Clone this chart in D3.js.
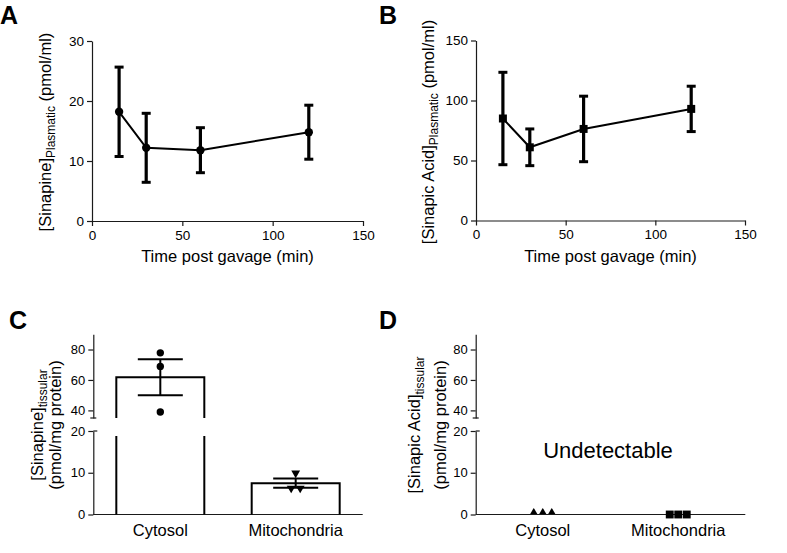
<!DOCTYPE html>
<html><head><meta charset="utf-8">
<script src="https://cdn.jsdelivr.net/npm/d3@7"></script>
<style>
body{margin:0;background:#fff}
svg{display:block}
text{font-family:"Liberation Sans",Arial,sans-serif;fill:#000}
</style>
</head><body>
<svg id="chart" width="787" height="553"></svg>
<script>
// ---------- data ----------
const times = [15, 30, 60, 120];
const sinapineMean = [18.2, 12.2, 11.8, 14.8];
const sinapineSD = [7.45, 5.75, 3.75, 4.5];
const sinapicMean = [85, 61, 76.3, 93];
const sinapicSD = [38.5, 15.3, 27.3, 18.9];
const timeTicks = [0, 50, 100, 150];
const sinapineTicks = [0, 10, 20, 30];
const sinapicTicks = [0, 50, 100, 150];

const compartments = ["Cytosol", "Mitochondria"];
const tissueSinapineMean = [61.8, 7.5];
const tissueSinapineSEM = [11.8, 1.1];
const cytosolSinapine = [77.8, 68.9, 38.9];
const mitoSinapine = [9.9, 6.3, 6.3];
const cytosolSinapic = [0, 0, 0];
const mitoSinapic = [0, 0, 0];
const upperTicks = [40, 60, 80];
const lowerTicks = [0, 10, 20];

// ---------- helpers ----------
const svg = d3.select("#chart");
const AX = "#1a1a1a";

function styleAxis(g, fs) {
  g.selectAll("path.domain").attr("stroke", AX).attr("stroke-width", 1.2);
  g.selectAll(".tick line").attr("stroke", AX).attr("stroke-width", 1.2);
  g.selectAll(".tick text").attr("font-size", fs).attr("font-family", '"Liberation Sans",Arial,sans-serif').attr("fill", "#000");
}

function panelLabel(t, x, y) {
  svg.append("text").attr("x", x).attr("y", y).attr("font-size", 25).attr("font-weight", "bold").text(t);
}

function rotTitle(x, y, main, sub, rest) {
  const t = svg.append("text").attr("transform", `translate(${x},${y}) rotate(-90)`)
    .attr("text-anchor", "middle").attr("font-size", 16.5);
  t.append("tspan").text(main);
  if (sub) t.append("tspan").attr("font-size", 12).attr("dy", 4).text(sub);
  if (rest) t.append("tspan").attr("dy", sub ? -4 : 0).text(rest);
}

// ---------- line panels A & B ----------
function linePanel(cfg) {
  const x = d3.scaleLinear().domain([0, 150]).range([cfg.x0, cfg.x1]);
  const y = d3.scaleLinear().domain(cfg.yDomain).range([cfg.yb, cfg.yt]);
  const gx = svg.append("g").attr("transform", `translate(0,${cfg.yb})`)
    .call(d3.axisBottom(x).tickValues(timeTicks).tickSize(5).tickSizeOuter(0).tickPadding(4));
  styleAxis(gx, 13.5);
  const gy = svg.append("g").attr("transform", `translate(${cfg.x0},0)`)
    .call(d3.axisLeft(y).tickValues(cfg.ticks).tickSize(5).tickSizeOuter(0).tickPadding(3));
  styleAxis(gy, 13.5);

  const pts = times.map((t, i) => ({t, m: cfg.mean[i], s: cfg.sd[i]}));
  const g = svg.append("g");
  g.append("path").datum(pts)
    .attr("d", d3.line().x(d => x(d.t)).y(d => y(d.m)))
    .attr("fill", "none").attr("stroke", "#000").attr("stroke-width", 2);
  const eb = g.selectAll("g.eb").data(pts).enter().append("g");
  eb.append("line").attr("x1", d => x(d.t)).attr("x2", d => x(d.t))
    .attr("y1", d => y(d.m + d.s)).attr("y2", d => y(d.m - d.s))
    .attr("stroke", "#000").attr("stroke-width", 3.2);
  [1, -1].forEach(sg => {
    eb.append("line").attr("x1", d => x(d.t) - 4.5).attr("x2", d => x(d.t) + 4.5)
      .attr("y1", d => y(d.m + sg * d.s)).attr("y2", d => y(d.m + sg * d.s))
      .attr("stroke", "#000").attr("stroke-width", 3);
  });
  const sym = d3.symbol().type(cfg.symbol).size(cfg.symSize);
  g.selectAll("path.pt").data(pts).enter().append("path")
    .attr("transform", d => `translate(${x(d.t)},${y(d.m)})`)
    .attr("d", sym).attr("fill", "#000");

  svg.append("text").attr("x", (cfg.x0 + cfg.x1) / 2).attr("y", cfg.yb + 41)
    .attr("text-anchor", "middle").attr("font-size", 16.5).text("Time post gavage (min)");
}

linePanel({x0: 92, x1: 363, yb: 221, yt: 41, yDomain: [0, 30], ticks: sinapineTicks,
  mean: sinapineMean, sd: sinapineSD, symbol: d3.symbolCircle, symSize: 55});
linePanel({x0: 476, x1: 745, yb: 220.5, yt: 40.5, yDomain: [0, 150], ticks: sinapicTicks,
  mean: sinapicMean, sd: sinapicSD, symbol: d3.symbolSquare, symSize: 64});

rotTitle(51, 132, "[Sinapine]", "Plasmatic", " (pmol/ml)");
rotTitle(434, 132, "[Sinapic Acid]", "Plasmatic", " (pmol/ml)");
panelLabel("A", 0, 24);
panelLabel("B", 379, 24);

// ---------- broken-axis panels C & D ----------
function brokenPanel(cfg) {
  const x = d3.scaleBand().domain(compartments).range([cfg.x0, cfg.x1]).paddingInner(0.35).paddingOuter(0.17);
  const yTop = d3.scaleLinear().domain([35, 90]).range([418, 334.3]);
  const yBot = d3.scaleLinear().domain([0, 20]).range([514.5, 431]);
  const yv = v => v >= 35 ? yTop(v) : yBot(v);

  const gTop = svg.append("g").attr("transform", `translate(${cfg.x0},0)`)
    .call(d3.axisLeft(yTop).tickValues(upperTicks).tickSize(5).tickSizeOuter(0).tickPadding(3));
  styleAxis(gTop, 13);
  const gBot = svg.append("g").attr("transform", `translate(${cfg.x0},0)`)
    .call(d3.axisLeft(yBot).tickValues(lowerTicks).tickSize(5).tickSizeOuter(0).tickPadding(3));
  styleAxis(gBot, 13);
  // break stubs
  svg.append("line").attr("x1", cfg.x0 - 3).attr("x2", cfg.x0 + 3)
    .attr("y1", yTop(35)).attr("y2", yTop(35)).attr("stroke", AX).attr("stroke-width", 1.2);
  svg.append("line").attr("x1", cfg.x0).attr("x2", cfg.x0 + 4)
    .attr("y1", yBot(20)).attr("y2", yBot(20)).attr("stroke", AX).attr("stroke-width", 1.2);
  // x axis
  svg.append("line").attr("x1", cfg.x0).attr("x2", cfg.x1)
    .attr("y1", yBot(0)).attr("y2", yBot(0)).attr("stroke", AX).attr("stroke-width", 1.2);
  svg.selectAll(null).data(compartments).enter().append("text")
    .attr("x", d => x(d) + x.bandwidth() / 2).attr("y", 535.5)
    .attr("text-anchor", "middle").attr("font-size", 16.5).text(d => d);

  return {x, yTop, yBot, yv};
}

// Panel C
const C = brokenPanel({x0: 93.3, x1: 362.7});
compartments.forEach((c, i) => {
  const v = tissueSinapineMean[i];
  const x0 = C.x(c), x1 = x0 + C.x.bandwidth();
  let d;
  if (v >= 35) {
    d = `M${x0},${C.yTop(35)}V${C.yTop(v)}H${x1}V${C.yTop(35)}` +
        `M${x0},${C.yBot(20) + 5}V${C.yBot(0)}M${x1},${C.yBot(20) + 5}V${C.yBot(0)}`;
  } else {
    d = `M${x0},${C.yBot(0)}V${C.yBot(v)}H${x1}V${C.yBot(0)}`;
  }
  svg.append("path").attr("d", d).attr("fill", "none").attr("stroke", "#000").attr("stroke-width", 2);
});
compartments.forEach((c, i) => {
  const cx = C.x(c) + C.x.bandwidth() / 2;
  const m = tissueSinapineMean[i], s = tissueSinapineSEM[i];
  svg.append("line").attr("x1", cx).attr("x2", cx).attr("y1", C.yv(m + s)).attr("y2", C.yv(m - s))
    .attr("stroke", "#000").attr("stroke-width", 2);
  [m + s, m - s].forEach(v => {
    svg.append("line").attr("x1", cx - 22.5).attr("x2", cx + 22.5).attr("y1", C.yv(v)).attr("y2", C.yv(v))
      .attr("stroke", "#000").attr("stroke-width", 2);
  });
});
{
  const cx0 = C.x("Cytosol") + C.x.bandwidth() / 2;
  svg.selectAll(null).data(cytosolSinapine).enter().append("circle")
    .attr("cx", cx0).attr("cy", d => C.yv(d)).attr("r", 3.7).attr("fill", "#000");
  const cx1 = C.x("Mitochondria") + C.x.bandwidth() / 2;
  const tri = d3.symbol().type(d3.symbolTriangle).size(34);
  svg.selectAll(null).data(mitoSinapine).enter().append("path")
    .attr("transform", (d, i) => `translate(${cx1 + (i === 0 ? 0 : (i === 1 ? -4.5 : 4.5))},${C.yv(d)}) rotate(180)`)
    .attr("d", tri).attr("fill", "#000");
}
rotTitle(42.5, 425, "[Sinapine]", "tissular", null);
rotTitle(60.5, 425, "(pmol/mg protein)", null, null);
panelLabel("C", 9, 329);

// Panel D
const D = brokenPanel({x0: 475.7, x1: 745.3});
{
  const cx0 = D.x("Cytosol") + D.x.bandwidth() / 2;
  const tri = d3.symbol().type(d3.symbolTriangle).size(22);
  svg.selectAll(null).data(cytosolSinapic).enter().append("path")
    .attr("transform", (d, i) => `translate(${cx0 - 9 + i * 9},${D.yv(d) - 2.5})`)
    .attr("d", tri).attr("fill", "#000");
  const cx1 = D.x("Mitochondria") + D.x.bandwidth() / 2;
  const sq = d3.symbol().type(d3.symbolSquare).size(62);
  svg.selectAll(null).data(mitoSinapic).enter().append("path")
    .attr("transform", (d, i) => `translate(${cx1 - 8.5 + i * 8.5},${D.yv(d)})`)
    .attr("d", sq).attr("fill", "#000");
}
svg.append("text").attr("x", 608).attr("y", 457.5).attr("text-anchor", "middle")
  .attr("font-size", 22).text("Undetectable");
rotTitle(419.5, 425, "[Sinapic Acid]", "tissular", null);
rotTitle(445.5, 425, "(pmol/mg protein)", null, null);
panelLabel("D", 379, 329);
</script>
</body></html>
